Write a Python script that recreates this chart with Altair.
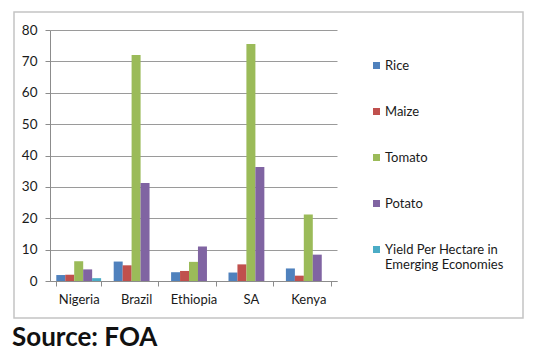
import altair as alt
import pandas as pd

countries = ["Nigeria", "Brazil", "Ethiopia", "SA", "Kenya"]
series = ["Rice", "Maize", "Tomato", "Potato", "Yield Per Hectare in Emerging Economies"]
rice = [1.9, 6.2, 2.8, 2.7, 4.0]
maize = [2.0, 5.0, 3.2, 5.3, 1.7]
tomato = [6.3, 72.0, 6.1, 75.5, 21.2]
potato = [3.7, 31.2, 11.0, 36.3, 8.4]
yield_pe = [0.9, None, None, None, None]
colors = ["#4F81BD", "#C0504D", "#9BBB59", "#8064A2", "#4BACC6"]
y_ticks = [0, 10, 20, 30, 40, 50, 60, 70, 80]

rows = []
for s, vals in zip(series, [rice, maize, tomato, potato, yield_pe]):
    for c, v in zip(countries, vals):
        if v is not None:
            rows.append({"country": c, "series": s, "value": v})
df = pd.DataFrame(rows)

FONT = "Lato"
TXT = "#1a1a1a"

bars = alt.Chart(df).mark_bar(size=9).encode(
    x=alt.X("country:N", sort=countries, title=None,
            scale=alt.Scale(paddingInner=0.22, paddingOuter=0.11),
            axis=alt.Axis(labelAngle=0, tickBand="extent", tickSize=5,
                          domainColor="#8c8c8c", tickColor="#8c8c8c",
                          labelPadding=7, labelFontSize=13, labelFont=FONT,
                          labelColor=TXT, grid=False)),
    xOffset=alt.XOffset("series:N", sort=series, scale=alt.Scale(domain=series, paddingInner=0)),
    y=alt.Y("value:Q", title=None,
            scale=alt.Scale(domain=[0, 80], nice=False),
            axis=alt.Axis(values=y_ticks, tickSize=5, domainColor="#8c8c8c",
                          tickColor="#8c8c8c", gridColor="#9a9a9a",
                          labelPadding=8, labelFontSize=13.5, labelFont=FONT,
                          labelColor=TXT)),
    color=alt.Color("series:N", sort=series,
                    scale=alt.Scale(domain=series, range=colors),
                    legend=alt.Legend(title=None, orient="none", legendX=320, legendY=29,
                                      symbolType="square", symbolSize=49,
                                      symbolStrokeWidth=0, labelFontSize=13,
                                      labelFont=FONT, labelColor=TXT,
                                      rowPadding=32, labelOffset=2, labelLimit=300,
                                      labelExpr="datum.label == 'Yield Per Hectare in Emerging Economies' ? ['Yield Per Hectare in', 'Emerging Economies'] : datum.label")),
)

frame = alt.Chart(pd.DataFrame({"a": [0]})).mark_rect(
    fillOpacity=0, stroke="#c4c4c4", strokeWidth=1.5
).encode(x=alt.value(-36), x2=alt.value(473), y=alt.value(-18), y2=alt.value(288))

source = alt.Chart(pd.DataFrame({"a": [0]})).mark_text(
    text="Source: FOA", font=FONT, fontSize=26, fontWeight="bold",
    align="left", baseline="alphabetic", color="#111111"
).encode(x=alt.value(-38), y=alt.value(316))

chart = alt.layer(frame, bars, source).properties(
    width=287, height=251,
    autosize=alt.AutoSizeParams(type="none"),
    padding={"left": 50, "top": 30, "right": 201, "bottom": 71},
    background="white",
).configure_view(stroke=None)

chart.save("out.html", embed_options={"renderer": "svg", "actions": False})
